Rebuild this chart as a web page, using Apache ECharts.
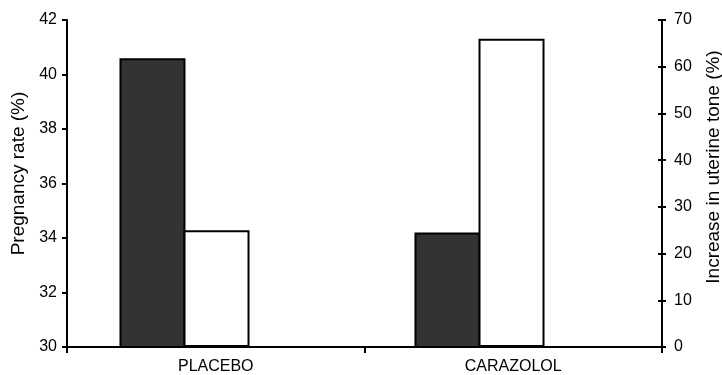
<!DOCTYPE html>
<html>
<head>
<meta charset="utf-8">
<script src="https://cdn.jsdelivr.net/npm/echarts@6/dist/echarts.min.js"></script>
<style>html,body{margin:0;padding:0;background:#fff;}#c{width:722px;height:375px;}</style>
</head>
<body>
<div id="c"></div>
<script>
var categories = ['PLACEBO', 'CARAZOLOL'];
var pregnancyRate = [40.6, 34.2];   // left axis (%)
var uterineTone = [25, 66];         // right axis (%)
var leftAxis = {min: 30, max: 42, interval: 2};
var rightAxis = {min: 0, max: 70, interval: 10};

var FONT = "'Liberation Sans', Arial, sans-serif";
var chart = echarts.init(document.getElementById('c'));
var lineStyle = {color: '#000', width: 2};
chart.setOption({
  animation: false,
  backgroundColor: '#fff',
  grid: [
    {left: 67, right: 60, top: 20, bottom: 28, containLabel: false, outerBoundsMode: 'none'},
    {left: 37, right: 95, top: 20, bottom: 28, containLabel: false, outerBoundsMode: 'none'}
  ],
  xAxis: [
    {type: 'category', gridIndex: 0, data: categories, boundaryGap: true,
     axisLine: {lineStyle: lineStyle},
     axisTick: {show: true, length: 6, lineStyle: {color: '#000', width: 2}},
     axisLabel: {color: '#000', fontSize: 16, fontFamily: FONT, margin: 12},
     splitLine: {show: false}, z: 5},
    {type: 'category', gridIndex: 1, data: categories, show: false}
  ],
  yAxis: [
    {type: 'value', gridIndex: 0, position: 'left', min: leftAxis.min, max: leftAxis.max, interval: leftAxis.interval,
     name: 'Pregnancy rate (%)', nameLocation: 'middle', nameRotate: 90, nameGap: 36,
     nameTextStyle: {color: '#000', fontSize: 19, fontFamily: FONT, padding: [0, 0, 0, 20]},
     axisLine: {show: true, lineStyle: lineStyle},
     axisTick: {show: true, length: 5, lineStyle: {color: '#000', width: 2}},
     axisLabel: {color: '#000', fontSize: 16, fontFamily: FONT, margin: 10},
     splitLine: {show: false}, z: 5},
    {type: 'value', gridIndex: 0, position: 'right', min: rightAxis.min, max: rightAxis.max, interval: rightAxis.interval,
     name: 'Increase in uterine tone (%)', nameLocation: 'middle', nameRotate: 90, nameGap: 42,
     nameTextStyle: {color: '#000', fontSize: 19, fontFamily: FONT, padding: [0, 0, 0, 33]},
     axisLine: {show: true, lineStyle: lineStyle},
     axisTick: {show: true, length: 4, lineStyle: {color: '#000', width: 2}},
     axisLabel: {color: '#000', fontSize: 16, fontFamily: FONT, margin: 12},
     splitLine: {show: false}, z: 5},
    {type: 'value', gridIndex: 0, position: 'right', min: rightAxis.min, max: rightAxis.max, interval: rightAxis.interval,
     axisLine: {show: false}, axisLabel: {show: false},
     axisTick: {show: true, inside: true, length: 4, lineStyle: {color: '#000', width: 2}},
     splitLine: {show: false}, z: 5},
    {type: 'value', gridIndex: 1, min: leftAxis.min, max: leftAxis.max, show: false, splitLine: {show: false}},
    {type: 'value', gridIndex: 1, min: rightAxis.min, max: rightAxis.max, show: false, splitLine: {show: false}}
  ],
  series: [
    {type: 'bar', name: 'Pregnancy rate', xAxisIndex: 1, yAxisIndex: 3, data: pregnancyRate,
     barWidth: 66, barGap: '-3%',
     itemStyle: {color: '#333333', borderColor: '#000', borderWidth: 2}},
    {type: 'bar', name: 'Uterine tone', xAxisIndex: 1, yAxisIndex: 4, data: uterineTone,
     barWidth: 66, barGap: '-3%',
     itemStyle: {color: '#ffffff', borderColor: '#000', borderWidth: 2}}
  ]
});
</script>
</body>
</html>
